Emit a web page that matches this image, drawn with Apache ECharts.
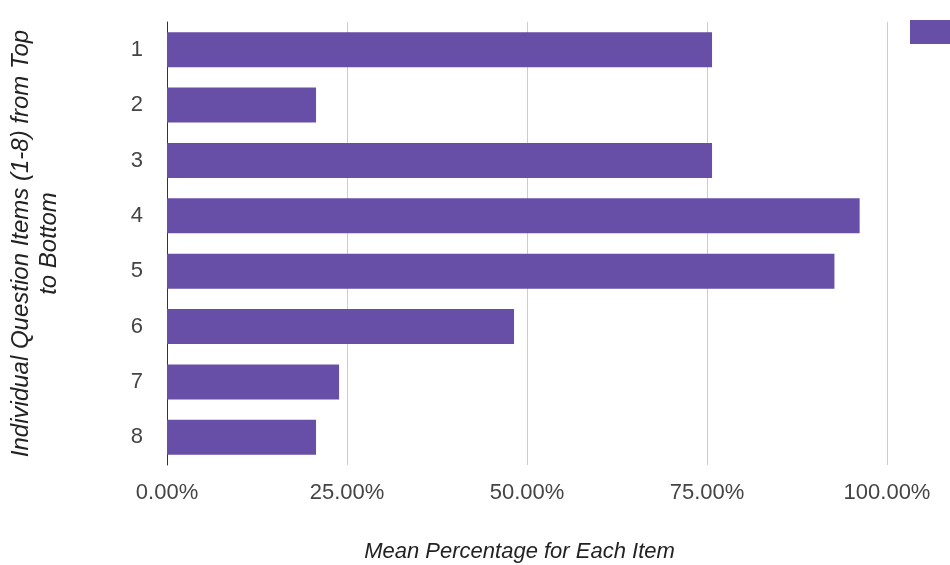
<!DOCTYPE html>
<html>
<head>
<meta charset="utf-8">
<script src="https://cdn.jsdelivr.net/npm/echarts@6/dist/echarts.min.js"></script>
<style>html,body{margin:0;padding:0;background:#fff;}#c{width:950px;height:565px;}</style>
</head>
<body>
<div id="c"></div>
<script>
const categories = ['1', '2', '3', '4', '5', '6', '7', '8'];
const meanPercent = [75.7, 20.7, 75.7, 96.2, 92.7, 48.2, 23.9, 20.7];
const xTicks = [0, 25, 50, 75, 100];
const seriesName = 'Mean Percentage';
const FONT = "'Liberation Sans', Arial, sans-serif";

const chart = echarts.init(document.getElementById('c'));
chart.setOption({
  animation: false,
  backgroundColor: '#ffffff',
  textStyle: { fontFamily: FONT },
  legend: {
    left: 905, top: 15,
    itemWidth: 48, itemHeight: 24, itemGap: 8,
    icon: 'rect',
    textStyle: { fontSize: 18, color: '#222', fontFamily: FONT },
    data: [seriesName]
  },
  grid: { left: 167, right: 63, top: 22, bottom: 100, containLabel: false, outerBoundsMode: 'none' },
  xAxis: {
    type: 'value',
    min: xTicks[0], max: xTicks[xTicks.length - 1], interval: 25,
    axisLine: { show: false },
    axisTick: { show: false },
    splitLine: { show: true, lineStyle: { color: '#cccccc', width: 1 } },
    axisLabel: {
      margin: 17, fontSize: 22, color: '#444', fontFamily: FONT,
      formatter: v => v.toFixed(2) + '%'
    },
    name: 'Mean Percentage for Each Item',
    nameLocation: 'middle',
    nameGap: 76,
    nameTextStyle: { fontSize: 22, fontStyle: 'italic', color: '#222', fontFamily: FONT, padding: [0, 15, 0, 0] }
  },
  yAxis: {
    type: 'category',
    inverse: true,
    data: categories,
    axisLine: { show: true, lineStyle: { color: '#333', width: 1 } },
    axisTick: { show: false },
    splitLine: { show: false },
    axisLabel: { margin: 24, fontSize: 22, color: '#444', fontFamily: FONT },
    name: 'Individual Question Items (1-8) from Top\nto Bottom',
    nameLocation: 'middle',
    nameRotate: 90,
    nameGap: 104,
    nameTextStyle: { fontSize: 24, fontStyle: 'italic', color: '#222', lineHeight: 28, align: 'center', fontFamily: FONT }
  },
  series: [{
    name: seriesName,
    type: 'bar',
    data: meanPercent,
    barWidth: 35,
    itemStyle: { color: '#674ea7' }
  }]
});
</script>
</body>
</html>
